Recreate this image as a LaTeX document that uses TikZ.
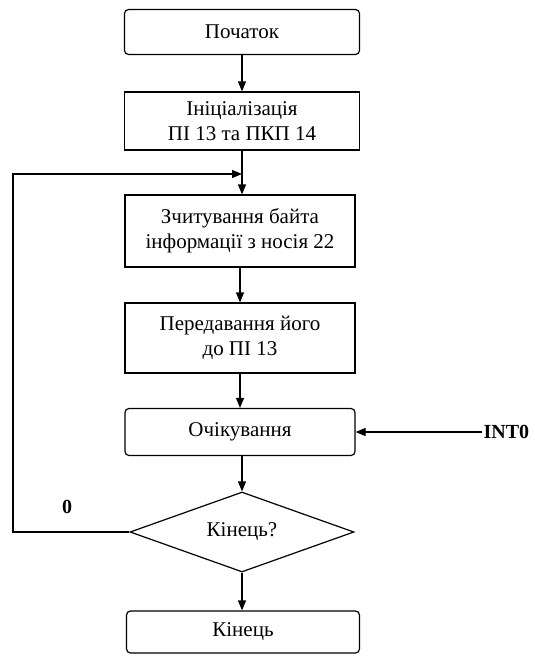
\documentclass[tikz,border=0pt]{standalone}
\usepackage{fontspec}
\setmainfont{Liberation Serif}
\usetikzlibrary{arrows.meta,shapes.geometric}

\begin{document}
\begin{tikzpicture}[x=1pt,y=-1pt,line width=1.2pt,
    >={Triangle[length=10pt,width=8pt]},
    every node/.style={font=\fontsize{21}{25}\selectfont},
    blok/.style={draw,rectangle,align=center,minimum width=230pt,inner sep=2pt},
    termblok/.style={blok,rounded corners=4pt},
    umova/.style={draw,diamond,aspect=2.8,minimum width=224pt,minimum height=80pt,inner sep=0pt}]
  \useasboundingbox (0,0) rectangle (535,656);
  % bloky
  \node[termblok,minimum width=235pt,minimum height=45pt] (start) at (242,32) {Початок};
  \node[blok,minimum width=235pt,minimum height=58pt] (init) at (242,121) {Ініціалізація\\ПІ 13 та ПКП 14};
  \node[blok,minimum height=72pt] (read) at (240,231) {Зчитування байта\\інформації з носія 22};
  \node[blok,minimum height=70pt] (send) at (240,338) {Передавання його\\до ПІ 13};
  \node[termblok,minimum height=47pt] (wait) at (240,432) {Очікування};
  \node[umova] (cond) at (242,532) {Кінець?};
  \node[termblok,minimum width=233pt,minimum height=42pt] (stop) at (243,632) {Кінець};
  \node[anchor=west,inner sep=1pt,font=\fontsize{20}{24}\selectfont\bfseries] (int) at (482,432) {INT0};
  \node[font=\fontsize{20}{24}\selectfont\bfseries] (nul) at (67,507) {0};
  % zvjazky
  \coordinate (merge) at (242,174);
  \coordinate (back) at (13,174);
  \draw[->] (start) -- (init);
  \draw[->] (init.south) -- (init.south |- read.north);
  \draw[->] (read) -- (send);
  \draw[->] (send) -- (wait);
  \draw[->] (wait.south -| cond.north) -- (cond.north);
  \draw[->] (cond.south) -- (cond.south |- stop.north);
  \draw[->] (int.west) -- (wait.east);
  \draw[->] (cond.west) -| (back) -- (merge);
\end{tikzpicture}
\end{document}
